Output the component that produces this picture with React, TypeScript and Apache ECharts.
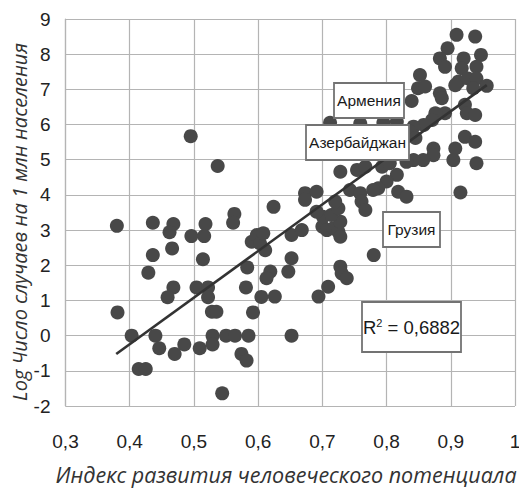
import React, { useEffect, useRef } from "react";
import * as echarts from "echarts";

// Scatter points: [human development index, log cases per 1 mln population]
const points: number[][] = [
  [0.380, 3.12], [0.436, 3.21], [0.468, 3.17], [0.462, 2.94], [0.518, 3.17],
  [0.563, 3.46], [0.561, 3.21], [0.496, 2.83], [0.516, 2.83], [0.436, 2.29],
  [0.466, 2.48], [0.514, 2.17], [0.429, 1.79], [0.590, 2.67], [0.598, 2.86],
  [0.583, 1.94], [0.468, 1.37], [0.459, 1.09], [0.504, 1.37], [0.522, 1.37],
  [0.522, 1.09], [0.581, 1.37], [0.381, 0.66], [0.528, 0.68], [0.535, 0.68],
  [0.592, 0.66], [0.403, 0.0], [0.440, 0.0], [0.446, -0.36], [0.470, -0.52],
  [0.485, -0.25], [0.509, -0.36], [0.529, 0.0], [0.529, -0.25], [0.550, 0.0],
  [0.564, 0.0], [0.585, 0.0], [0.574, -0.52], [0.582, -0.71], [0.414, -0.95],
  [0.425, -0.95], [0.544, -1.64], [0.495, 5.67], [0.537, 4.82],
  [0.605, 1.10], [0.626, 1.11], [0.694, 1.11], [0.709, 1.39], [0.728, 1.96],
  [0.730, 1.77], [0.738, 1.63], [0.780, 2.29], [0.652, 0.0], [0.619, 1.82],
  [0.613, 1.63], [0.647, 1.82], [0.652, 2.20], [0.611, 2.43], [0.603, 2.62],
  [0.608, 2.91], [0.652, 2.86], [0.668, 3.00], [0.700, 3.10], [0.707, 3.00],
  [0.717, 3.05], [0.725, 2.95], [0.728, 2.81], [0.728, 3.24], [0.701, 3.38],
  [0.714, 3.43], [0.691, 3.52], [0.725, 3.62], [0.720, 3.81], [0.624, 3.66],
  [0.673, 4.05], [0.691, 4.09], [0.673, 3.86], [0.743, 4.14], [0.759, 4.05],
  [0.761, 3.81], [0.767, 3.57], [0.728, 4.66], [0.754, 4.71], [0.767, 4.80],
  [0.793, 4.80], [0.805, 4.90], [0.816, 4.57], [0.800, 4.38], [0.787, 4.19],
  [0.779, 4.14], [0.818, 4.09], [0.831, 3.95],
  [0.909, 8.55], [0.938, 8.50], [0.895, 8.17], [0.883, 7.88], [0.891, 7.64],
  [0.920, 7.88], [0.947, 7.98], [0.940, 7.64], [0.917, 7.60], [0.912, 7.22],
  [0.927, 7.31], [0.940, 7.31], [0.956, 7.10], [0.907, 7.12], [0.935, 7.03],
  [0.852, 7.41], [0.849, 7.03], [0.860, 7.08], [0.883, 6.89], [0.886, 6.75],
  [0.839, 6.67], [0.922, 6.56], [0.925, 6.32], [0.938, 6.27], [0.891, 6.32],
  [0.876, 6.32], [0.871, 6.13], [0.858, 5.99], [0.842, 5.94], [0.837, 5.80],
  [0.845, 5.62], [0.922, 5.65], [0.938, 5.51], [0.907, 5.32], [0.873, 5.32],
  [0.873, 5.13], [0.940, 4.90], [0.904, 4.99], [0.857, 4.99], [0.842, 4.99],
  [0.831, 4.94], [0.915, 4.07], [0.712, 6.05], [0.759, 6.03], [0.795, 6.05],
  [0.816, 6.08],
];

// Trend line end points
const trendLine: number[][] = [
  [0.379, -0.52],
  [0.956, 7.12],
];

const xTitle = "Индекс развития человеческого потенциала";
const yTitle = "Log Число случаев на 1 млн населения";
const labels = ["Армения", "Азербайджан", "Грузия"];
const r2Text = "0,6882";

const xMin = 0.3;
const xMax = 1;
const xStep = 0.1;
const yMin = -2;
const yMax = 9;
const yStep = 1;

export default function App() {
  const ref = useRef<HTMLDivElement>(null);

  useEffect(() => {
    document.body.style.margin = "0";
    if (!ref.current) return;
    const chart = echarts.init(ref.current, undefined, { renderer: "svg" });
    const gridColor = "#b4b4b4";
    const tickFont = "'Liberation Sans', Arial, sans-serif";
    const titleFont = "'Open Sans', 'Noto Sans', sans-serif";
    const boxStroke = "#737373";

    const box = (
      x: number,
      y: number,
      w: number,
      h: number,
      text: string,
      fontSize: number
    ) => ({
      type: "group",
      z: 100,
      children: [
        {
          type: "rect",
          shape: { x, y, width: w, height: h },
          style: { fill: "#ffffff", stroke: boxStroke, lineWidth: 1.8 },
          z: 100,
        },
        {
          type: "text",
          x: x + w / 2,
          y: y + h / 2,
          style: {
            text,
            fill: "#1a1a1a",
            font: `${fontSize}px ${tickFont}`,
            align: "center",
            verticalAlign: "middle",
          },
          z: 101,
        },
      ],
    });

    chart.setOption({
      animation: false,
      backgroundColor: "#ffffff",
      grid: {
        left: 65.5,
        right: 4,
        top: 19,
        bottom: 88,
        containLabel: false,
        outerBoundsMode: "none",
      },
      xAxis: {
        type: "value",
        min: xMin,
        max: xMax,
        interval: xStep,
        axisLine: { show: true, lineStyle: { color: gridColor, width: 1.2 } },
        axisTick: { show: false },
        splitLine: { show: true, lineStyle: { color: gridColor, width: 1.2 } },
        axisLabel: {
          margin: 26,
          fontSize: 19,
          fontFamily: tickFont,
          color: "#222222",
          formatter: (v: number) =>
            String(Math.round(v * 10) / 10).replace(".", ","),
        },
      },
      yAxis: {
        type: "value",
        min: yMin,
        max: yMax,
        interval: yStep,
        axisLine: { show: true, lineStyle: { color: gridColor, width: 1.2 } },
        axisTick: { show: false },
        splitLine: { show: true, lineStyle: { color: gridColor, width: 1.2 } },
        axisLabel: {
          margin: 15,
          fontSize: 19,
          fontFamily: tickFont,
          color: "#222222",
        },
      },
      series: [
        {
          type: "scatter",
          data: points,
          symbol: "circle",
          symbolSize: 14,
          itemStyle: { color: "#484848", opacity: 1 },
          z: 2,
        },
        {
          type: "line",
          data: trendLine,
          showSymbol: false,
          symbol: "none",
          lineStyle: { color: "#333333", width: 2.6 },
          z: 3,
        },
      ],
      graphic: [
        {
          type: "text",
          x: 286,
          y: 474,
          z: 100,
          style: {
            text: xTitle,
            fill: "#333333",
            font: `italic 21.5px ${titleFont}`,
            align: "center",
            verticalAlign: "middle",
          },
        },
        {
          type: "text",
          x: 19,
          y: 222,
          rotation: Math.PI / 2,
          z: 100,
          style: {
            text: yTitle,
            fill: "#333333",
            font: `italic 20px ${titleFont}`,
            align: "center",
            verticalAlign: "middle",
          },
        },
        box(334, 83, 70, 35, labels[0], 15.5),
        box(306, 125, 103, 35, labels[1], 15.5),
        box(383, 212, 57, 35, labels[2], 15.5),
        {
          type: "group",
          z: 100,
          children: [
            {
              type: "rect",
              shape: { x: 362, y: 302, width: 99, height: 50 },
              style: { fill: "#ffffff", stroke: boxStroke, lineWidth: 1.8 },
              z: 100,
            },
            {
              type: "text",
              x: 411.5,
              y: 327,
              z: 101,
              style: {
                text: `{r|R}{s|2}{r| = ${r2Text}}`,
                align: "center",
                verticalAlign: "middle",
                rich: {
                  r: {
                    fontSize: 18.5,
                    fontFamily: tickFont,
                    fill: "#1a1a1a",
                    color: "#1a1a1a",
                  },
                  s: {
                    fontSize: 11,
                    fontFamily: tickFont,
                    fill: "#1a1a1a",
                    color: "#1a1a1a",
                    verticalAlign: "top",
                    padding: [0, 0, 8, 0],
                  },
                },
              },
            },
          ],
        },
      ],
    });

    return () => chart.dispose();
  }, []);

  return <div ref={ref} style={{ width: 519, height: 494 }} />;
}
